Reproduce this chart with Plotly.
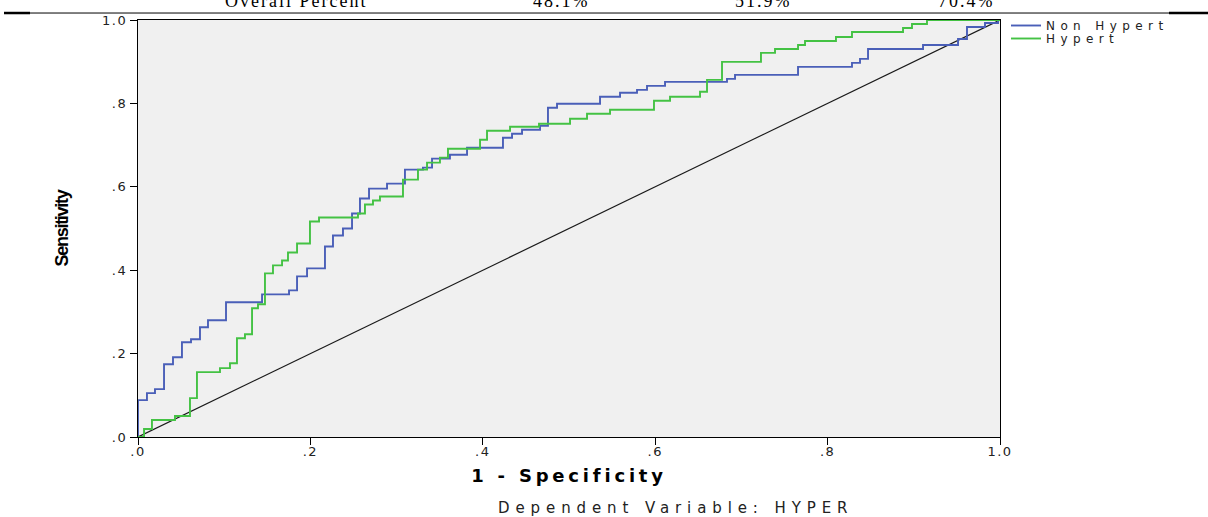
import plotly.graph_objects as go

# ---- data ----
fpr_non_hypert = [0.0, 0.0, 0.0104, 0.0197, 0.0302, 0.0406, 0.0510, 0.0615, 0.0719, 0.0812,
                  0.1021, 0.1439, 0.1752, 0.1845, 0.1961, 0.2169, 0.2262, 0.2378, 0.2483, 0.2575,
                  0.2680, 0.2889, 0.3097, 0.3306, 0.3411, 0.3619, 0.3817, 0.4234, 0.4339, 0.4455,
                  0.4664, 0.4756, 0.4861, 0.5360, 0.5592, 0.5789, 0.5905, 0.6114, 0.6833, 0.6926,
                  0.7657, 0.8283, 0.8376, 0.8469, 0.9107, 0.9513, 0.9617, 0.9826, 0.9977, 1.0]
tpr_non_hypert = [0.0, 0.0885, 0.1053, 0.1148, 0.1746, 0.1914, 0.2273, 0.2344, 0.2632, 0.2799,
                  0.3230, 0.3421, 0.3517, 0.3852, 0.4043, 0.4569, 0.4833, 0.5000, 0.5359, 0.5718,
                  0.5957, 0.6077, 0.6411, 0.6459, 0.6675, 0.6770, 0.6938, 0.7177, 0.7273, 0.7368,
                  0.7464, 0.7895, 0.7990, 0.8158, 0.8254, 0.8325, 0.8421, 0.8517, 0.8589, 0.8684,
                  0.8876, 0.8971, 0.9067, 0.9306, 0.9402, 0.9545, 0.9833, 0.9928, 1.0, 1.0]

fpr_hypert = [0.0, 0.0070, 0.0162, 0.0429, 0.0603, 0.0684, 0.0951, 0.1067, 0.1148, 0.1241,
              0.1323, 0.1392, 0.1473, 0.1566, 0.1671, 0.1740, 0.1845, 0.1995, 0.2100, 0.2552,
              0.2633, 0.2726, 0.2807, 0.3074, 0.3248, 0.3353, 0.3503, 0.3596, 0.3968, 0.4049,
              0.4316, 0.4652, 0.5012, 0.5209, 0.5476, 0.5986, 0.6172, 0.6520, 0.6601, 0.6775,
              0.7227, 0.7390, 0.7657, 0.7738, 0.8097, 0.8283, 0.8875, 0.8979, 0.9153, 1.0]
tpr_hypert = [0.0, 0.0191, 0.0407, 0.0502, 0.0933, 0.1555, 0.1651, 0.1770, 0.2368, 0.2464,
              0.3086, 0.3182, 0.3923, 0.4115, 0.4234, 0.4426, 0.4641, 0.5167, 0.5263, 0.5359,
              0.5574, 0.5670, 0.5766, 0.6172, 0.6411, 0.6579, 0.6699, 0.6914, 0.7129, 0.7344,
              0.7440, 0.7512, 0.7632, 0.7751, 0.7847, 0.8062, 0.8158, 0.8278, 0.8565, 0.8995,
              0.9211, 0.9306, 0.9402, 0.9498, 0.9593, 0.9713, 0.9809, 0.9904, 1.0, 1.0]

reference_x = [0.0, 1.0]
reference_y = [0.0, 1.0]

tick_values = [0.0, 0.2, 0.4, 0.6, 0.8, 1.0]
tick_labels = [".0", ".2", ".4", ".6", ".8", "1.0"]

header_labels = ["Overall Percent", "48.1%", "51.9%", "70.4%"]
series_names = ["Non Hypert", "Hypert"]
x_title = "1 - Specificity"
y_title = "Sensitivity"
footnote = "Dependent Variable: HYPER"

# ---- styling ----
BLUE = "#4A5FB8"
GREEN = "#44C244"
SANS = "DejaVu Sans, Liberation Sans, Arial, sans-serif"


def spaced(text, px):
    return f'<span style="letter-spacing:{px}px">{text}</span>'


fig = go.Figure()

fig.add_trace(go.Scatter(
    x=reference_x, y=reference_y, mode="lines",
    line=dict(color="#1a1a1a", width=1.2), showlegend=False, hoverinfo="skip"))

fig.add_trace(go.Scatter(
    x=fpr_non_hypert, y=tpr_non_hypert, mode="lines", line_shape="hv",
    line=dict(color=BLUE, width=1.9), name=spaced(series_names[0], 5.4),
    legend="legend"))

fig.add_trace(go.Scatter(
    x=fpr_hypert, y=tpr_hypert, mode="lines", line_shape="hv",
    line=dict(color=GREEN, width=1.9), name=spaced(series_names[1], 5.4),
    legend="legend2"))

W, H = 1208, 517
L, R, T, B = 138, 208, 19, 80
pw, ph = W - L - R, H - T - B


def px_to_paper_x(px):
    return (px - L) / pw


def px_to_paper_y(py):
    return (H - B - py) / ph


annotations = []
header_centers = [296, 561, 763, 966]
for lab, cx in zip(header_labels, header_centers):
    annotations.append(dict(
        text=spaced(lab, 2), x=px_to_paper_x(cx), y=px_to_paper_y(12),
        xref="paper", yref="paper", xanchor="center", yanchor="bottom",
        showarrow=False, font=dict(family="Liberation Serif, Times New Roman, serif",
                                   size=18, color="#000")))

annotations.append(dict(
    text=spaced(footnote, 5.9), x=px_to_paper_x(675), y=px_to_paper_y(508),
    xref="paper", yref="paper", xanchor="center", yanchor="middle",
    showarrow=False, font=dict(family=SANS, size=15, color="#222")))

shapes = [
    dict(type="line", xref="paper", yref="paper",
         x0=px_to_paper_x(4), x1=px_to_paper_x(1208),
         y0=px_to_paper_y(12), y1=px_to_paper_y(12),
         line=dict(color="#000", width=1)),
    dict(type="line", xref="paper", yref="paper",
         x0=px_to_paper_x(4), x1=px_to_paper_x(30),
         y0=px_to_paper_y(12), y1=px_to_paper_y(12),
         line=dict(color="#000", width=2.5)),
    dict(type="line", xref="paper", yref="paper",
         x0=px_to_paper_x(1169), x1=px_to_paper_x(1208),
         y0=px_to_paper_y(12), y1=px_to_paper_y(12),
         line=dict(color="#000", width=2.5)),
]

axis_common = dict(
    range=[0, 1], tickvals=tick_values, ticktext=[spaced(t, 1.5) for t in tick_labels],
    ticks="outside", ticklen=7, tickwidth=1, tickcolor="#000",
    showline=True, linecolor="#000", linewidth=1.3, mirror=True,
    showgrid=False, zeroline=False,
    tickfont=dict(family=SANS, size=13, color="#222"),
)

legend_common = dict(
    xanchor="left", yanchor="top", bgcolor="rgba(0,0,0,0)", borderwidth=0,
    font=dict(family=SANS, size=12, color="#222"), itemwidth=30,
    tracegroupgap=0)

fig.update_layout(
    width=W, height=H, autosize=False,
    margin=dict(l=L, r=R, t=T, b=B, pad=0),
    paper_bgcolor="#FFFFFF", plot_bgcolor="#F0F0F0",
    xaxis=dict(**axis_common, ticklabelstandoff=-5,
               title=dict(text=spaced(x_title, 3.8), standoff=11,
                          font=dict(family=SANS, size=18, color="#000", weight="bold"))),
    yaxis=dict(**axis_common,
               title=dict(text=spaced(y_title, -1.3), standoff=28,
                          font=dict(family="Liberation Sans, Arial, sans-serif",
                                    size=18, color="#000", weight="bold"))),
    legend=dict(**legend_common, x=px_to_paper_x(1006), y=px_to_paper_y(11)),
    legend2=dict(**legend_common, x=px_to_paper_x(1006), y=px_to_paper_y(24)),
    annotations=annotations,
    shapes=shapes,
)

fig.write_html("out.html", config={"displayModeBar": False},
               post_script="document.body.style.margin='0px';")
